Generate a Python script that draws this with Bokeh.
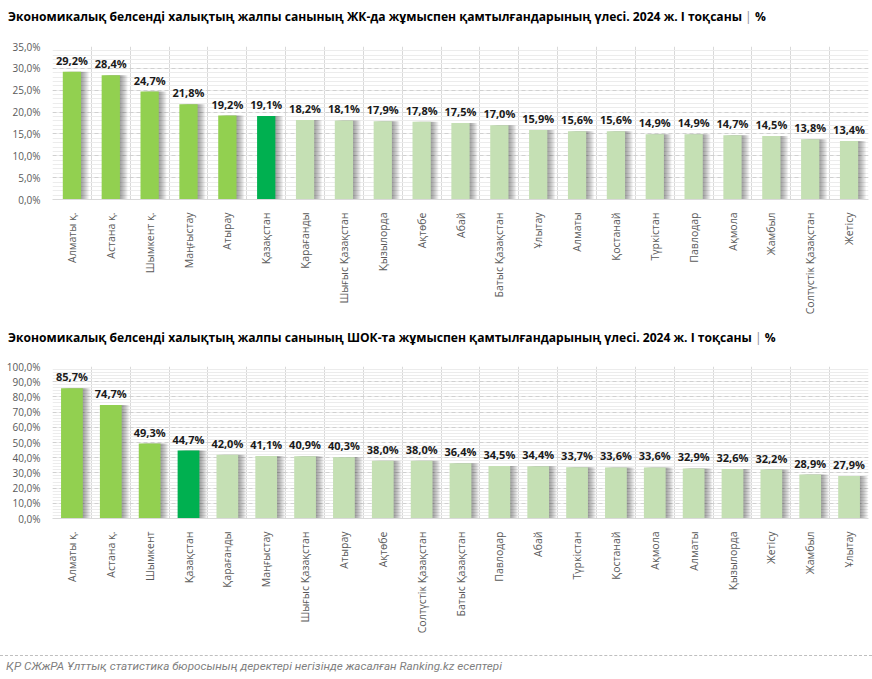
from math import pi
from bokeh.plotting import figure
from bokeh.models import Range1d, FixedTicker, Div, ColumnDataSource
from bokeh.transform import dodge
from bokeh.layouts import column
from bokeh.embed import file_html
from bokeh.resources import INLINE
from bokeh.core.properties import value

# ---- data ----
title1 = "Экономикалық белсенді халықтың жалпы санының ЖК-да жұмыспен қамтылғандарының үлесі. 2024 ж. I тоқсаны"
cats1 = ["Алматы қ.", "Астана қ.", "Шымкент қ.", "Маңғыстау", "Атырау", "Қазақстан",
         "Қарағанды", "Шығыс Қазақстан", "Қызылорда", "Ақтөбе", "Абай", "Батыс Қазақстан",
         "Ұлытау", "Алматы", "Қостанай", "Түркістан", "Павлодар", "Ақмола", "Жамбыл",
         "Солтүстік Қазақстан", "Жетісу"]
vals1 = [29.2, 28.4, 24.7, 21.8, 19.2, 19.1, 18.2, 18.1, 17.9, 17.8, 17.5, 17.0,
         15.9, 15.6, 15.6, 14.9, 14.9, 14.7, 14.5, 13.8, 13.4]
yticks1 = [0, 5, 10, 15, 20, 25, 30, 35]

title2 = "Экономикалық белсенді халықтың жалпы санының ШОК-та жұмыспен қамтылғандарының үлесі. 2024 ж. I тоқсаны"
cats2 = ["Алматы қ.", "Астана қ.", "Шымкент", "Қазақстан", "Қарағанды", "Маңғыстау",
         "Шығыс Қазақстан", "Атырау", "Ақтөбе", "Солтүстік Қазақстан", "Батыс Қазақстан",
         "Павлодар", "Абай", "Түркістан", "Қостанай", "Ақмола", "Алматы", "Қызылорда",
         "Жетісу", "Жамбыл", "Ұлытау"]
vals2 = [85.7, 74.7, 49.3, 44.7, 42.0, 41.1, 40.9, 40.3, 38.0, 38.0, 36.4,
         34.5, 34.4, 33.7, 33.6, 33.6, 32.9, 32.6, 32.2, 28.9, 27.9]
yticks2 = [0, 10, 20, 30, 40, 50, 60, 70, 80, 90, 100]

unit = "%"
national = "Қазақстан"
footer_text = "ҚР СЖжРА Ұлттық статистика бюросының деректері негізінде жасалған Ranking.kz есептері"

FONT = "Open Sans"
C_HIGH = "#92D050"
C_NAT = "#00B050"
C_LOW = "#C5E0B4"


def fmt(v):
    return f"{v:.1f}".replace(".", ",") + "%"


def title_div(text, center_y):
    html = (f'<div style="font-family:\'{FONT}\';font-weight:bold;font-size:12.1px;'
            f'color:#000;white-space:nowrap;margin:0;padding:0 0 0 8px;'
            f'height:{2 * center_y}px;line-height:{2 * center_y}px;">'
            f'{text} <span style="font-weight:normal;color:#8c8c8c">|</span> {unit}</div>')
    return Div(text=html, width=872, height=30, margin=0)


def make_chart(cats, vals, yticks, minor_step, height, left, top, bottom, bw):
    n = len(cats)
    nat_val = vals[cats.index(national)]
    colors = [C_NAT if c == national else (C_HIGH if v > nat_val else C_LOW)
              for c, v in zip(cats, vals)]
    src = ColumnDataSource(dict(x=list(range(n)), v=vals, lbl=[fmt(v) for v in vals],
                                color=colors))
    p = figure(width=872, height=height, x_range=Range1d(-0.5, n - 0.5),
               y_range=Range1d(yticks[0], yticks[-1]),
               output_backend="svg", toolbar_location=None,
               min_border_left=left, min_border_right=4,
               min_border_top=top, min_border_bottom=bottom)
    p.outline_line_color = None
    p.background_fill_color = "white"

    minors = []
    t = yticks[0]
    while t < yticks[-1] - 1e-9:
        t += minor_step
        minors.append(round(t, 6))
    p.ygrid.ticker = FixedTicker(ticks=yticks, minor_ticks=minors)
    p.ygrid.grid_line_color = "#d0d0d0"
    p.ygrid.grid_line_dash = "4 3"
    p.ygrid.minor_grid_line_color = "#ececec"
    p.xgrid.ticker = FixedTicker(ticks=[i - 0.5 for i in range(n + 1)])
    p.xgrid.grid_line_color = "#d9d9d9"

    ya = p.yaxis[0]
    ya.ticker = FixedTicker(ticks=yticks)
    ya.major_label_overrides = {t: fmt(t) for t in yticks}
    ya.axis_line_color = None
    ya.major_tick_line_color = None
    ya.minor_tick_line_color = None
    ya.major_label_text_font = FONT
    ya.major_label_text_font_size = "10px"
    ya.major_label_text_color = "#595959"
    ya.major_label_standoff = 6

    xa = p.xaxis[0]
    xa.ticker = FixedTicker(ticks=list(range(n)))
    xa.major_label_overrides = {i: c for i, c in enumerate(cats)}
    xa.major_label_orientation = pi / 2
    xa.axis_line_color = "#d9d9d9"
    xa.major_tick_line_color = None
    xa.minor_tick_line_color = None
    xa.major_label_text_font = FONT
    xa.major_label_text_font_size = "10.5px"
    xa.major_label_text_color = "#595959"
    xa.major_label_standoff = 7

    # soft shadow
    for k in range(1, 8):
        p.vbar(x=dodge("x", 0.028 * k), top="v", width=bw, source=src,
               fill_color="#000000", fill_alpha=0.06, line_color=None)
    p.vbar(x="x", top="v", width=bw, source=src, fill_color="color", line_color=None)
    p.text(x="x", y="v", text="lbl", source=src, text_align="center",
           text_baseline="bottom", y_offset=-4, text_font=value(FONT),
           text_font_style="bold", text_font_size="11px", text_color="#1a1a1a")
    return p


t1 = title_div(title1, 17)
p1 = make_chart(cats1, vals1, yticks1, 1, 290, 50, 16, 121, 0.47)
t2 = title_div(title2, 18)
p2 = make_chart(cats2, vals2, yticks2, 2, 305, 52, 16, 137, 0.56)

footer_html = ('<div style="border-top:1px dashed #bfbfbf;font-style:italic;'
               'font-family:Roboto;font-size:11.7px;color:#7f7f7f;margin:0;'
               'padding:0 0 0 6px;height:23px;line-height:20px;white-space:nowrap;'
               'width:872px;box-sizing:border-box;">' + footer_text + '</div>')
footer = Div(text=footer_html, width=872, height=24, margin=0)

layout = column(t1, p1, t2, p2, footer, spacing=0)
open("out.html", "w").write(file_html(layout, INLINE))
